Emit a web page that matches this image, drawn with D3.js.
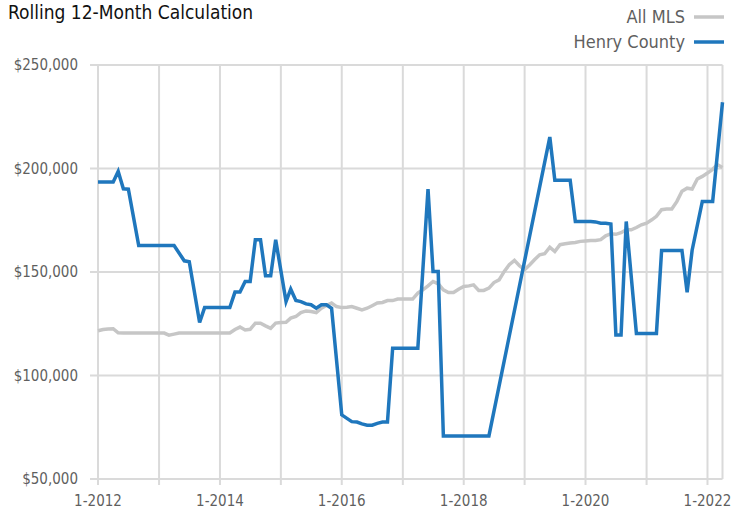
<!DOCTYPE html>
<html>
<head>
<meta charset="utf-8">
<script src="https://cdn.jsdelivr.net/npm/d3@7"></script>
<style>
  body { margin: 0; background: #fff; }
  #chart-area svg { display: block; }
  text { font-family: "Liberation Sans Narrow", "Arial Narrow", "DejaVu Sans Condensed", sans-serif; }
</style>
</head>
<body>
<div id="chart-area"></div>
<script>
// Monthly points, 1-2012 through 4-2022
const startMonth = new Date(2012, 0, 1);
const endMonth = new Date(2022, 3, 1);
const months = d3.timeMonth.range(startMonth, d3.timeMonth.offset(endMonth, 1));

// All MLS rolling 12-month value (thousands of $)
const allMls = [
  121.6, 122.2, 122.5, 122.6, 120.6, 120.5, 120.5, 120.5, 120.5, 120.5, 120.5, 120.5,
  120.5, 120.5, 119.5, 120.0, 120.5, 120.5, 120.5, 120.5, 120.5, 120.5, 120.5, 120.5,
  120.5, 120.5, 120.5, 122.2, 123.4, 122.0, 122.3, 125.3, 125.3, 124.0, 122.8, 125.3,
  125.6, 125.7, 127.7, 128.5, 130.4, 131.2, 130.9, 130.4, 132.5, 133.8, 135.0, 133.3,
  132.8, 133.0, 133.3, 132.5, 131.7, 132.5, 133.7, 135.0, 135.3, 136.2, 136.2, 136.9,
  136.9, 136.9, 136.9, 139.8, 141.4, 143.3, 145.4, 144.3, 141.4, 140.1, 140.1, 141.7,
  143.0, 143.3, 143.8, 141.1, 141.1, 142.2, 144.9, 146.2, 150.3, 153.5, 155.6, 153.0,
  151.1, 153.5, 155.9, 158.3, 158.8, 162.0, 159.9, 163.2, 163.6, 164.0, 164.3, 164.8,
  165.0, 165.2, 165.2, 165.6, 167.5, 168.5, 168.2, 169.0, 170.4, 170.4, 171.5, 172.8,
  173.6, 175.2, 176.9, 180.1, 180.4, 180.4, 184.0, 189.0, 190.5, 190.1, 194.9, 196.2,
  197.8, 199.6, 201.9, 200.5
];

// Henry County rolling 12-month value (thousands of $); null = no point
const henryCounty = [
  193.5, 193.5, 193.5, 193.5, 198.6, 190.2, 190.0, null, 162.8, 162.8, 162.8, 162.8,
  162.8, 162.8, 162.8, 162.8, null, 155.4, 155.0, null, 125.6, 132.8, 132.8, 132.8,
  132.8, 132.8, 132.8, 140.3, 140.3, 145.4, 145.4, 165.6, 165.6, 148.2, 148.2, 165.6,
  null, 135.7, 141.7, 136.2, 135.7, 134.6, 134.2, 132.5, 134.2, 134.2, 132.5, null,
  81.0, 79.3, 77.7, 77.5, 76.6, 76.0, 76.0, 76.9, 77.5, 77.5, 113.2, 113.2,
  113.2, 113.2, 113.2, 113.2, null, 190.1, 150.3, 150.3, 70.8, 70.8, 70.8, 70.8,
  70.8, 70.8, 70.8, 70.8, 70.8, 70.8, null, null, null, null, null, null,
  null, null, null, null, null, 215.2, 194.3, 194.3, 194.3, 194.3, 174.4, 174.4,
  174.4, 174.4, 174.2, 173.6, 173.6, 173.2, 119.6, 119.6, 174.4, null, 120.3, 120.3,
  120.3, 120.3, 120.3, 160.4, 160.4, 160.4, 160.4, 160.4, 140.2, 160.5, null, 184.1,
  184.1, 184.1, null, 232.0
];

const yTicks = [50, 100, 150, 200, 250];
const xLabelYears = [2012, 2014, 2016, 2018, 2020, 2022];
const gridYears = d3.range(2012, 2023);

const seriesNames = ["All MLS", "Henry County"];
const seriesColors = ["#c6c6c6", "#1f77bd"];

(function () {
  const W = 745, H = 514;
  const margin = { top: 65, right: 21, bottom: 35, left: 98 };

  const svg = d3.select("#chart-area").append("svg")
    .attr("width", W).attr("height", H);

  const x = d3.scaleTime()
    .domain([startMonth, endMonth])
    .range([margin.left, W - margin.right - 1.5]);
  const y = d3.scaleLinear()
    .domain([50, 250])
    .range([H - margin.bottom, margin.top]);

  const grid = "#dadada";

  // horizontal grid
  svg.append("g").selectAll("line").data(yTicks).join("line")
    .attr("x1", margin.left - 8).attr("x2", x(endMonth))
    .attr("y1", d => y(d)).attr("y2", d => y(d))
    .attr("stroke", grid).attr("stroke-width", 2);

  // vertical grid (yearly) + right edge
  const vLines = gridYears.map(yr => x(new Date(yr, 0, 1))).concat([x(endMonth)]);
  svg.append("g").selectAll("line").data(vLines).join("line")
    .attr("x1", d => d).attr("x2", d => d)
    .attr("y1", y(250)).attr("y2", (d, i) => i < gridYears.length ? y(50) + 6 : y(50))
    .attr("stroke", grid).attr("stroke-width", 2);

  // y labels
  svg.append("g").selectAll("text").data(yTicks).join("text")
    .attr("x", margin.left - 20)
    .attr("y", d => y(d))
    .attr("dy", "0.35em")
    .attr("text-anchor", "end")
    .attr("font-size", 15)
    .attr("fill", "#5f5f5f")
    .text(d => "$" + d3.format(",")(d * 1000));

  // x labels
  svg.append("g").selectAll("text").data(xLabelYears).join("text")
    .attr("x", d => x(new Date(d, 0, 1)))
    .attr("y", y(50) + 27)
    .attr("text-anchor", "middle")
    .attr("font-size", 15)
    .attr("fill", "#5f5f5f")
    .text(d => "1-" + d);

  // lines
  const line = d3.line()
    .x(d => x(d.date))
    .y(d => y(d.value));

  [allMls, henryCounty].forEach((vals, i) => {
    const pts = months.map((m, j) => ({ date: m, value: vals[j] }))
      .filter(d => d.value != null);
    svg.append("path")
      .datum(pts)
      .attr("fill", "none")
      .attr("stroke", seriesColors[i])
      .attr("stroke-width", 3.5)
      .attr("d", line);
  });

  // title
  svg.append("text")
    .attr("x", 8).attr("y", 19)
    .attr("font-size", 19)
    .attr("fill", "#111")
    .text("Rolling 12-Month Calculation");

  // legend
  const legend = svg.append("g");
  seriesNames.forEach((name, i) => {
    const ly = 17 + i * 25;
    legend.append("text")
      .attr("x", 685).attr("y", ly)
      .attr("dy", "0.35em")
      .attr("text-anchor", "end")
      .attr("font-size", 18)
      .attr("fill", "#5f5f5f")
      .text(name);
    legend.append("line")
      .attr("x1", 694).attr("x2", 724)
      .attr("y1", ly).attr("y2", ly)
      .attr("stroke", seriesColors[i])
      .attr("stroke-width", 3.5);
  });
})();
</script>
</body>
</html>
